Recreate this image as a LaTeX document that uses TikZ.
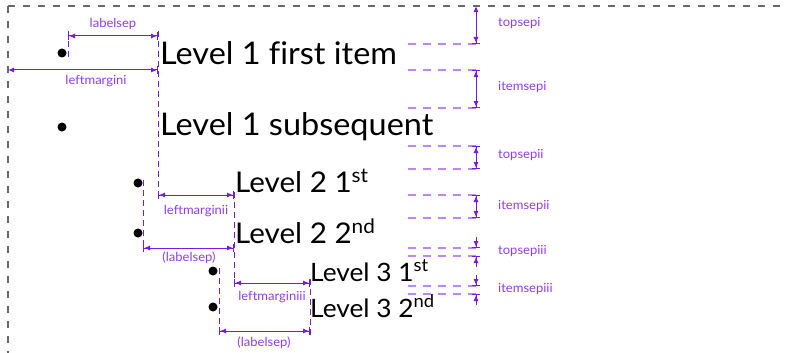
\documentclass[tikz,border=0pt]{standalone}
\usepackage{fontspec}
\setmainfont{Lato}[Ligatures=NoCommon, FakeStretch=1.04]
\usetikzlibrary{arrows.meta}
\definecolor{arrowc}{RGB}{122,24,228}
\definecolor{labc}{RGB}{146,60,236}
\definecolor{lightc}{RGB}{190,135,245}
\definecolor{borderc}{RGB}{105,105,105}
\tikzset{
  border/.style={draw=borderc, line width=1.3pt, dash pattern=on 7pt off 8pt},
  guide/.style={draw=arrowc, line width=1pt, dash pattern=on 6pt off 4pt},
  hguide/.style={draw=lightc, line width=1.5pt, dash pattern=on 8pt off 7pt},
  dim/.style={draw=arrowc, line width=1pt, {Bar[width=8pt]Latex[length=6pt,width=5pt]}-{Latex[length=6pt,width=5pt]Bar[width=8pt]}},
  dimnb/.style={draw=arrowc, line width=1pt, {Latex[length=6pt,width=5pt]}-{Latex[length=6pt,width=5pt]Bar[width=8pt]}},
  dimin/.style={draw=arrowc, line width=1pt, -{Latex[length=6pt,width=5pt]Bar[width=8pt]}},
  dlab/.style={text=labc, font=\fontsize{12.5}{14}\selectfont, inner sep=0pt},
  rlab/.style={dlab, anchor=west},
  bul/.style={circle, fill=black, inner sep=0pt, minimum size=9pt},
  lone/.style={anchor=base west, inner sep=0pt, font=\fontsize{31.2}{36}\selectfont},
  ltwo/.style={anchor=base west, inner sep=0pt, font=\fontsize{28.5}{32}\selectfont},
  lthree/.style={anchor=base west, inner sep=0pt, font=\fontsize{25.3}{30}\selectfont},
}
\begin{document}
\begin{tikzpicture}[x=1pt,y=-1pt]
\useasboundingbox (0,0) rectangle (787,353);
% borders
\coordinate (tl) at (8,6);
\coordinate (tr) at (787,6);
\coordinate (bl) at (8,353);
\draw[border] (tl) -- (tr);
\draw[border] (tl) -- (bl);
% bullets
\node[bul] (b1) at (62,53) {};
\node[bul] (b2) at (62,127) {};
\node[bul] (b3) at (138,183) {};
\node[bul] (b4) at (138,233) {};
\node[bul] (b5) at (213,271) {};
\node[bul] (b6) at (213,307) {};
% texts
\node[lone] (t1) at (160,65) {Level 1 first item};
\node[lone] (t2) at (160,135) {Level 1 subsequent};
\node[ltwo] (t3) at (235,192) {Level 2 1\textsuperscript{st}};
\node[ltwo] (t4) at (235,243) {Level 2 2\textsuperscript{nd}};
\node[lthree] (t5) at (310,281) {Level 3 1\textsuperscript{st}};
\node[lthree] (t6) at (310,317) {Level 3 2\textsuperscript{nd}};
% guide coordinates, left side
\coordinate (ga1) at (68,31);  \coordinate (ga2) at (68,57);
\coordinate (gb1) at (158,31); \coordinate (gb2) at (158,195);
\coordinate (gc1) at (143,180); \coordinate (gc2) at (143,252);
\coordinate (gd1) at (234,192); \coordinate (gd2) at (234,287);
\coordinate (ge1) at (219,268); \coordinate (ge2) at (219,335);
\coordinate (gf1) at (310,279); \coordinate (gf2) at (310,335);
\draw[guide] (ga1) -- (ga2);
\draw[guide] (gb1) -- (gb2);
\draw[guide] (gc1) -- (gc2);
\draw[guide] (gd1) -- (gd2);
\draw[guide] (ge1) -- (ge2);
\draw[guide] (gf1) -- (gf2);
% horizontal dimensions
\coordinate (h1a) at (68,36);  \coordinate (h1b) at (158,36);
\coordinate (h2a) at (8,70);   \coordinate (h2b) at (158,70);
\coordinate (h3a) at (158,195); \coordinate (h3b) at (234,195);
\coordinate (h4a) at (143,248); \coordinate (h4b) at (234,248);
\coordinate (h5a) at (234,283); \coordinate (h5b) at (310,283);
\coordinate (h6a) at (219,331); \coordinate (h6b) at (310,331);
\draw[dim] (h1a) -- (h1b);
\draw[dimnb] (h2a) -- (h2b);
\draw[dim] (h3a) -- (h3b);
\draw[dim] (h4a) -- (h4b);
\draw[dim] (h5a) -- (h5b);
\draw[dim] (h6a) -- (h6b);
\node[dlab] (l1) at (113,24) {labelsep};
\node[dlab] (l2) at (96,81) {leftmargini};
\node[dlab] (l3) at (196,211) {leftmarginii};
\node[dlab] (l4) at (189,258) {(labelsep)};
\node[dlab] (l5) at (272,297) {leftmarginiii};
\node[dlab] (l6) at (264,343) {(labelsep)};
% right side horizontal guides
\foreach \yy/\nm in {44/ra,70/rb,108/rc,146/rd,169/re,195/rf,218/rg,248/rh,256/ri,286/rj,294/rk}{
  \coordinate (\nm l) at (408,\yy);
  \coordinate (\nm) at (476,\yy);
  \draw[hguide] (\nm l) -- (480,\yy);
}
\coordinate (rtop) at (476,6);
\draw[dimnb] (rtop) -- (ra);
\draw[dim] (rb) -- (rc);
\draw[dim] (rd) -- (re);
\draw[dim] (rf) -- (rg);
\coordinate (rh0) at (476,237);
\coordinate (ri0) at (476,267);
\coordinate (rj0) at (476,275);
\coordinate (rk0) at (476,305);
\draw[dimin] (rh0) -- (rh);
\draw[dimin] (ri0) -- (ri);
\draw[dimin] (rj0) -- (rj);
\draw[dimin] (rk0) -- (rk);
\node[rlab] (r1) at (498,23) {topsepi};
\node[rlab] (r2) at (498,87) {itemsepi};
\node[rlab] (r3) at (498,155) {topsepii};
\node[rlab] (r4) at (498,206) {itemsepii};
\node[rlab] (r5) at (498,251) {topsepiii};
\node[rlab] (r6) at (498,289) {itemsepiii};
\end{tikzpicture}
\end{document}
